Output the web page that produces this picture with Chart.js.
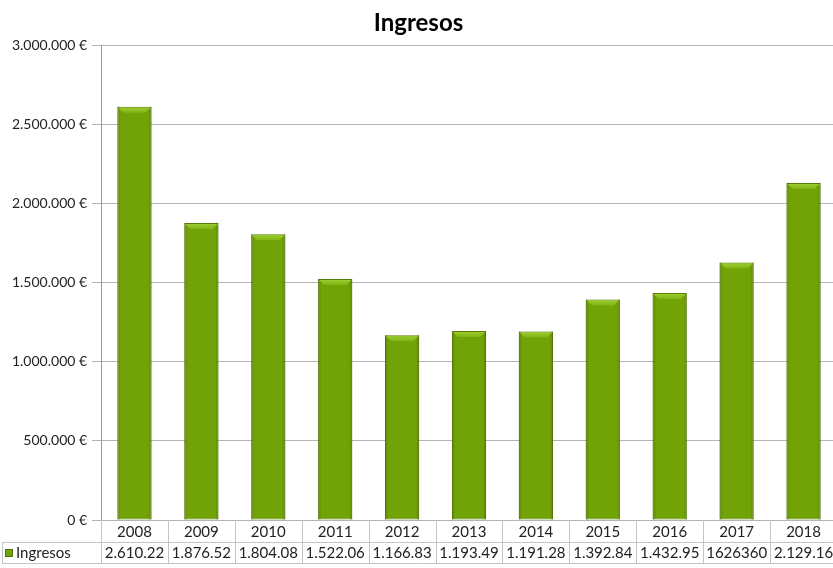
<!DOCTYPE html>
<html>
<head>
<meta charset="utf-8">
<script src="https://cdn.jsdelivr.net/npm/chart.js@4/dist/chart.umd.min.js"></script>
<style>
  html, body { margin: 0; padding: 0; background: #fff; overflow: hidden; }
  #wrap { width: 837px; height: 568px; }
</style>
</head>
<body>
<div id="wrap"><canvas id="chart"></canvas></div>
<script>
const years = ['2008', '2009', '2010', '2011', '2012', '2013', '2014', '2015', '2016', '2017', '2018'];
const ingresos = [2610220, 1876520, 1804080, 1522060, 1166830, 1193490, 1191280, 1392840, 1432950, 1626360, 2129160];
// texts shown in the data table row (as printed, some truncated)
const tableLabels = ['2.610.22', '1.876.52', '1.804.08', '1.522.06', '1.166.83', '1.193.49', '1.191.28', '1.392.84', '1.432.95', '1626360', '2.129.16'];

const FONT = 'Lato, "Open Sans", sans-serif';
const LINE = '#c4c4c4';

// bevel on top of each bar + soft side shading
const barBevel = {
  id: 'barBevel',
  afterDatasetsDraw(chart) {
    const ctx = chart.ctx;
    chart.getDatasetMeta(0).data.forEach(bar => {
      const l = bar.x - bar.width / 2, r = bar.x + bar.width / 2;
      const t = bar.y, b = bar.base;
      ctx.save();
      const side = ctx.createLinearGradient(l, 0, r, 0);
      side.addColorStop(0, 'rgba(60,90,0,0.4)');
      side.addColorStop(0.1, 'rgba(60,90,0,0)');
      side.addColorStop(0.9, 'rgba(60,90,0,0)');
      side.addColorStop(1, 'rgba(60,90,0,0.4)');
      ctx.fillStyle = side;
      ctx.fillRect(l, t, r - l, b - t);
      const bev = 6;
      const g = ctx.createLinearGradient(0, t, 0, t + bev);
      g.addColorStop(0, '#a2d034');
      g.addColorStop(1, '#80b412');
      ctx.fillStyle = g;
      ctx.beginPath();
      ctx.moveTo(l + 1, t + 1);
      ctx.lineTo(r - 1, t + 1);
      ctx.lineTo(r - bev, t + bev);
      ctx.lineTo(l + bev, t + bev);
      ctx.closePath();
      ctx.fill();
      ctx.restore();
    });
  }
};

// data table under the x axis: year row + value row
const dataTable = {
  id: 'dataTable',
  afterDraw(chart) {
    const ctx = chart.ctx;
    const x = chart.scales.x;
    const area = chart.chartArea;
    const row1 = area.bottom, row2 = area.bottom + 22, row3 = row2 + 21;
    const step = x.getPixelForValue(1) - x.getPixelForValue(0);
    ctx.save();
    ctx.strokeStyle = LINE;
    ctx.lineWidth = 1;
    ctx.beginPath();
    ctx.moveTo(2, row2 + 0.5); ctx.lineTo(chart.width, row2 + 0.5);
    ctx.moveTo(2, row3 + 0.5); ctx.lineTo(chart.width, row3 + 0.5);
    ctx.moveTo(2.5, row2); ctx.lineTo(2.5, row3);
    for (let i = 0; i <= years.length; i++) {
      const px = Math.round(x.getPixelForValue(i) - step / 2) + 0.5;
      ctx.moveTo(px, row1); ctx.lineTo(px, row3);
    }
    ctx.stroke();

    // legend key
    ctx.fillStyle = '#72a306';
    ctx.fillRect(5, row2 + 7, 8, 8);
    ctx.strokeStyle = '#4f7a00';
    ctx.strokeRect(5.5, row2 + 7.5, 7, 7);
    ctx.fillStyle = '#222';
    ctx.font = '15px ' + FONT;
    ctx.textBaseline = 'middle';
    ctx.textAlign = 'left';
    ctx.fillText('Ingresos', 16, row2 + 11);
    ctx.textAlign = 'center';
    years.forEach((y, i) => ctx.fillText(y, x.getPixelForValue(i), row1 + 12));
    tableLabels.forEach((t, i) => ctx.fillText(t, x.getPixelForValue(i), row2 + 11));
    ctx.restore();
  }
};

new Chart(document.getElementById('chart'), {
  type: 'bar',
  data: {
    labels: years,
    datasets: [{
      label: 'Ingresos',
      data: ingresos,
      backgroundColor: '#72a306',
      borderColor: '#567f00',
      borderWidth: 1,
      borderSkipped: false,
      barPercentage: 0.51,
      categoryPercentage: 1
    }]
  },
  options: {
    responsive: true,
    maintainAspectRatio: false,
    animation: false,
    layout: { padding: { left: 0, right: 0, top: 0, bottom: 26 } },
    plugins: {
      legend: { display: false },
      tooltip: { enabled: false },
      title: {
        display: true,
        text: 'Ingresos',
        color: '#000',
        font: { family: FONT, size: 24, weight: 'bold' },
        padding: { top: 9, bottom: 7.2 }
      }
    },
    scales: {
      x: {
        grid: { display: false },
        border: { display: false },
        ticks: { display: false },
        afterFit(scale) { scale.height = 22; }
      },
      y: {
        min: 0,
        max: 3000000,
        ticks: {
          stepSize: 500000,
          color: '#222',
          font: { family: FONT, size: 14 },
          padding: 5,
          callback: v => v.toLocaleString('de-DE') + '\u202f€'
        },
        grid: { color: '#b4b4b4', tickLength: 9 },
        border: { color: '#9a9a9a' },
        afterFit(scale) { scale.width = 101; }
      }
    }
  },
  plugins: [barBevel, dataTable]
});
</script>
</body>
</html>
